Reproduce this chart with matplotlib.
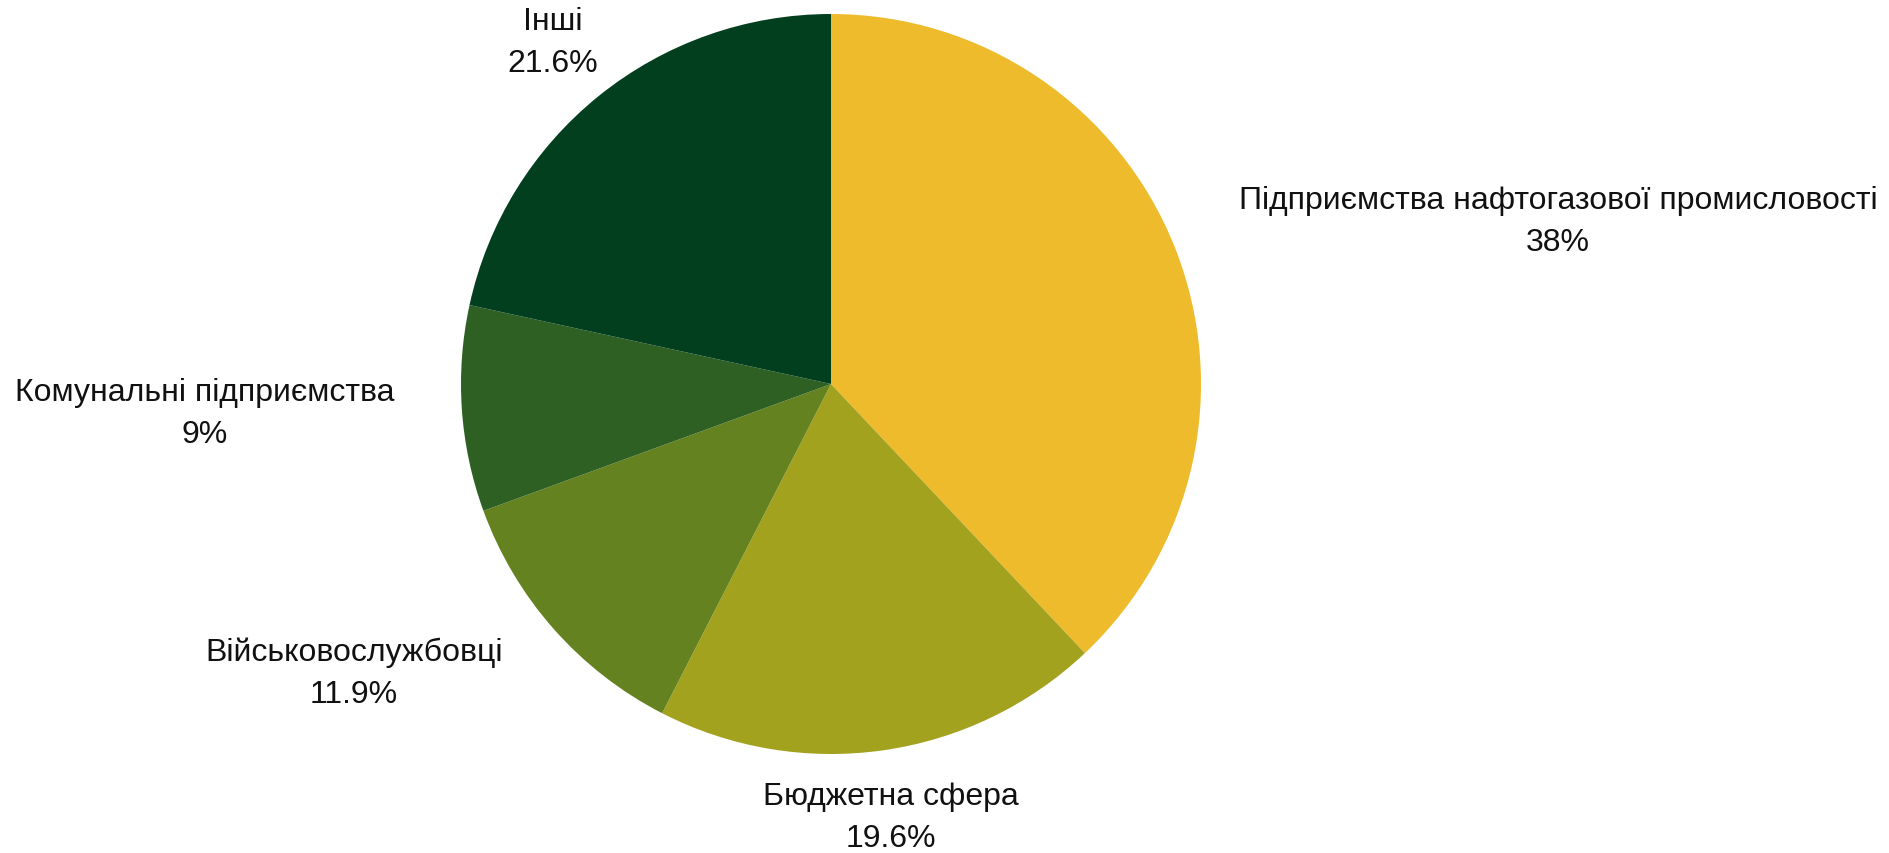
import matplotlib.pyplot as plt

names = ["Підприємства нафтогазової промисловості", "Бюджетна сфера",
         "Військовослужбовці", "Комунальні підприємства", "Інші"]
shares = [38, 19.6, 11.9, 9, 21.6]
pct_labels = ["38%", "19.6%", "11.9%", "9%", "21.6%"]
colors = ["#EEBB2C", "#A3A21F", "#64821F", "#2E6023", "#023F1F"]

# label centres in pie-radius units
label_pos = [(1.965, 0.441), (0.162, -1.170), (-1.289, -0.781),
             (-1.692, -0.078), (-0.751, 0.924)]

fig = plt.figure(figsize=(18.89, 8.54), dpi=100)
ax = fig.add_axes([0, 0, 1, 1])
ax.pie(shares, colors=colors, startangle=90, counterclock=False,
       wedgeprops=dict(linewidth=0))

for i, (name, pct) in enumerate(zip(names, pct_labels)):
    x, y = label_pos[i]
    ax.text(x, y, name + "\n" + pct, ha="center", va="center",
            fontsize=23, family="Liberation Sans", linespacing=1.5,
            color="#111111")

ax.set_aspect("auto")
ax.set_xlim(-831 / 370, (1889 - 831) / 370)
ax.set_ylim(-(854 - 385) / 370, 385 / 370)
ax.axis("off")
fig.savefig("out.png", dpi=100, facecolor="white")
